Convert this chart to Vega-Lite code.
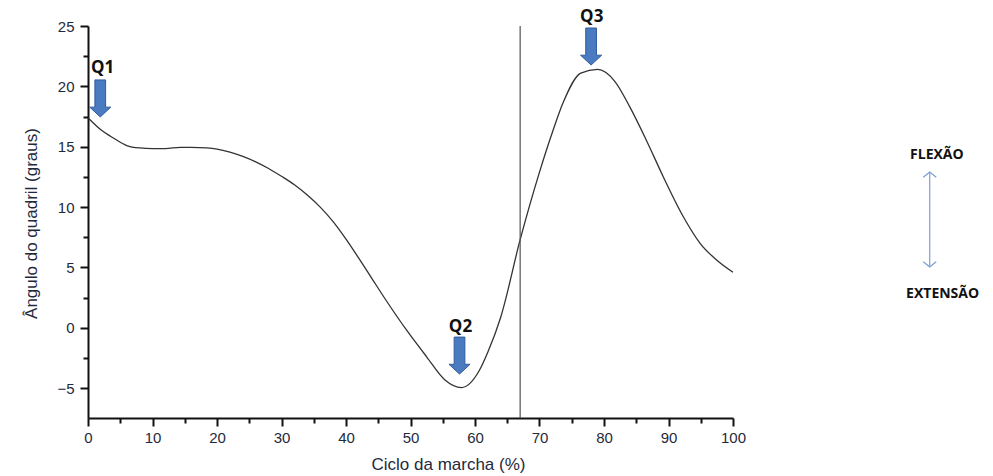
{
  "$schema": "https://vega.github.io/schema/vega-lite/v6.json",
  "autosize": "none",
  "width": 645,
  "height": 392,
  "padding": {"left": 88, "top": 26, "right": 260, "bottom": 58},
  "background": "white",
  "config": {"view": {"stroke": null}},
  "resolve": {"axis": {"x": "independent", "y": "independent"}},
  "datasets": {
    "curve": [
      {"x": 0, "y": 17.4}, {"x": 2, "y": 16.4}, {"x": 4, "y": 15.7}, {"x": 6, "y": 15.1},
      {"x": 8, "y": 14.9}, {"x": 10, "y": 14.85}, {"x": 12, "y": 14.85}, {"x": 14.3, "y": 14.95},
      {"x": 16, "y": 14.95}, {"x": 18.4, "y": 14.9}, {"x": 20, "y": 14.8}, {"x": 22, "y": 14.55},
      {"x": 24, "y": 14.2}, {"x": 26, "y": 13.75}, {"x": 28, "y": 13.2}, {"x": 30, "y": 12.55},
      {"x": 32, "y": 11.85}, {"x": 34, "y": 11.0}, {"x": 36, "y": 10.0}, {"x": 38, "y": 8.8},
      {"x": 40, "y": 7.35}, {"x": 42, "y": 5.75}, {"x": 44, "y": 4.1}, {"x": 46, "y": 2.45},
      {"x": 49.4, "y": -0.2}, {"x": 52.5, "y": -2.4},
      {"x": 55.3, "y": -4.3}, {"x": 57.9, "y": -4.95}, {"x": 60.6, "y": -3.6}, {"x": 62, "y": -2.0},
      {"x": 64, "y": 0.9}, {"x": 67, "y": 7.3}, {"x": 70, "y": 12.9}, {"x": 72, "y": 16.2},
      {"x": 73.7, "y": 18.7}, {"x": 76.4, "y": 21.1}, {"x": 79, "y": 21.4}, {"x": 81.7, "y": 20.4},
      {"x": 84, "y": 18.3}, {"x": 86.6, "y": 15.5}, {"x": 89.2, "y": 12.5}, {"x": 92.3, "y": 9.2},
      {"x": 94.9, "y": 7.0}, {"x": 97.5, "y": 5.6}, {"x": 100, "y": 4.6}
    ],
    "marker": [{"x": 67}],
    "arrows": [
      {"x": 1.9, "y": 19.0, "label": "Q1", "lx": 2.25, "ly": 21.5},
      {"x": 57.6, "y": -2.3, "label": "Q2", "lx": 57.75, "ly": 0.07},
      {"x": 78.0, "y": 23.3, "label": "Q3", "lx": 78.1, "ly": 25.76}
    ],
    "side": [
      {"x": 131.6, "y": 14.3, "label": "FLEXÃO"},
      {"x": 132.5, "y": 2.78, "label": "EXTENSÃO"}
    ],
    "dir": [{"x": 130.5, "y": 12.9, "y2": 5.04}],
    "heads": [
      {"x": 130.5, "y": 12.9, "end": "up"},
      {"x": 130.5, "y": 5.04, "end": "down"}
    ]
  },
  "layer": [
    {
      "data": {"name": "curve"},
      "mark": {"type": "line", "color": "#333333", "strokeWidth": 1.3, "interpolate": "monotone"},
      "encoding": {
        "x": {
          "field": "x", "type": "quantitative",
          "scale": {"domain": [0, 100], "nice": false, "zero": false},
          "axis": {
            "orient": "bottom",
            "values": [0, 10, 20, 30, 40, 50, 60, 70, 80, 90, 100],
            "tickSize": 8,
            "grid": false,
            "domainColor": "#111", "domainWidth": 2,
            "tickColor": "#111", "tickWidth": 2,
            "labelFont": "Liberation Sans", "labelFontSize": 15, "labelColor": "#1f2a3c",
            "labelPadding": 4, "labelFlush": false,
            "title": "Ciclo da marcha (%)",
            "titleFont": "Liberation Sans", "titleFontSize": 17, "titleFontWeight": "normal",
            "titleColor": "#1f2a3c",
            "titleX": 360, "titleY": 46, "titleBaseline": "middle", "titleAlign": "center"
          }
        },
        "y": {
          "field": "y", "type": "quantitative",
          "scale": {"domain": [-7.47, 25], "nice": false, "zero": false},
          "axis": {
            "orient": "left",
            "values": [-5, 0, 5, 10, 15, 20, 25],
            "tickSize": 8,
            "grid": false,
            "domainColor": "#111", "domainWidth": 2,
            "tickColor": "#111", "tickWidth": 2,
            "labelFont": "Liberation Sans", "labelFontSize": 15, "labelColor": "#1f2a3c",
            "labelPadding": 6,
            "title": "Ângulo do quadril (graus)",
            "titleFont": "Liberation Sans", "titleFontSize": 17, "titleFontWeight": "normal",
            "titleColor": "#1f2a3c",
            "titleX": -57, "titleY": 197, "titleBaseline": "middle", "titleAlign": "center", "titleAngle": -90
          }
        }
      }
    },
    {
      "data": {"name": "marker"},
      "mark": {"type": "rule", "color": "#555", "strokeWidth": 1.2},
      "encoding": {
        "x": {
          "field": "x", "type": "quantitative",
          "axis": {
            "orient": "bottom",
            "values": [5, 15, 25, 35, 45, 55, 65, 75, 85, 95],
            "tickSize": 5, "tickColor": "#111", "tickWidth": 2,
            "domain": false, "labels": false, "grid": false, "title": null
          }
        }
      }
    },
    {
      "data": {"name": "arrows"},
      "mark": {
        "type": "point", "filled": true, "opacity": 1,
        "shape": "M -0.29 -1 L 0.29 -1 L 0.29 0.47 L 0.57 0.47 L 0 1 L -0.57 0.47 L -0.29 0.47 Z",
        "size": 1369, "color": "#4a7bc0", "stroke": "#2f5c9a", "strokeWidth": 1
      },
      "encoding": {
        "x": {"field": "x", "type": "quantitative", "axis": null},
        "y": {
          "field": "y", "type": "quantitative",
          "axis": {
            "orient": "left",
            "values": [-2.5, 2.5, 7.5, 12.5, 17.5, 22.5],
            "tickSize": 5, "tickColor": "#111", "tickWidth": 2,
            "domain": false, "labels": false, "grid": false, "title": null
          }
        }
      }
    },
    {
      "data": {"name": "arrows"},
      "mark": {"type": "text", "font": "Open Sans", "fontWeight": "bold", "fontSize": 17, "color": "#111", "baseline": "middle", "align": "center"},
      "encoding": {
        "x": {"field": "lx", "type": "quantitative", "axis": null},
        "y": {"field": "ly", "type": "quantitative", "axis": null},
        "text": {"field": "label"}
      }
    },
    {
      "data": {"name": "side"},
      "mark": {"type": "text", "font": "Open Sans", "fontWeight": "bold", "fontSize": 14, "color": "#111", "baseline": "middle", "align": "center"},
      "encoding": {
        "x": {"field": "x", "type": "quantitative", "axis": null},
        "y": {"field": "y", "type": "quantitative", "axis": null},
        "text": {"field": "label"}
      }
    },
    {
      "data": {"name": "dir"},
      "mark": {"type": "rule", "color": "#7b9fd6", "strokeWidth": 1.2},
      "encoding": {
        "x": {"field": "x", "type": "quantitative", "axis": null},
        "y": {"field": "y", "type": "quantitative", "axis": null},
        "y2": {"field": "y2"}
      }
    },
    {
      "data": {"name": "heads"},
      "transform": [{"filter": "datum.end === 'up'"}],
      "mark": {"type": "point", "filled": false, "shape": "M -1 0.8 L 0 0 L 1 0.8", "size": 169, "color": "#7b9fd6", "strokeWidth": 1.3, "opacity": 1},
      "encoding": {
        "x": {"field": "x", "type": "quantitative", "axis": null},
        "y": {"field": "y", "type": "quantitative", "axis": null}
      }
    },
    {
      "data": {"name": "heads"},
      "transform": [{"filter": "datum.end === 'down'"}],
      "mark": {"type": "point", "filled": false, "shape": "M -1 -0.8 L 0 0 L 1 -0.8", "size": 169, "color": "#7b9fd6", "strokeWidth": 1.3, "opacity": 1},
      "encoding": {
        "x": {"field": "x", "type": "quantitative", "axis": null},
        "y": {"field": "y", "type": "quantitative", "axis": null}
      }
    }
  ]
}
